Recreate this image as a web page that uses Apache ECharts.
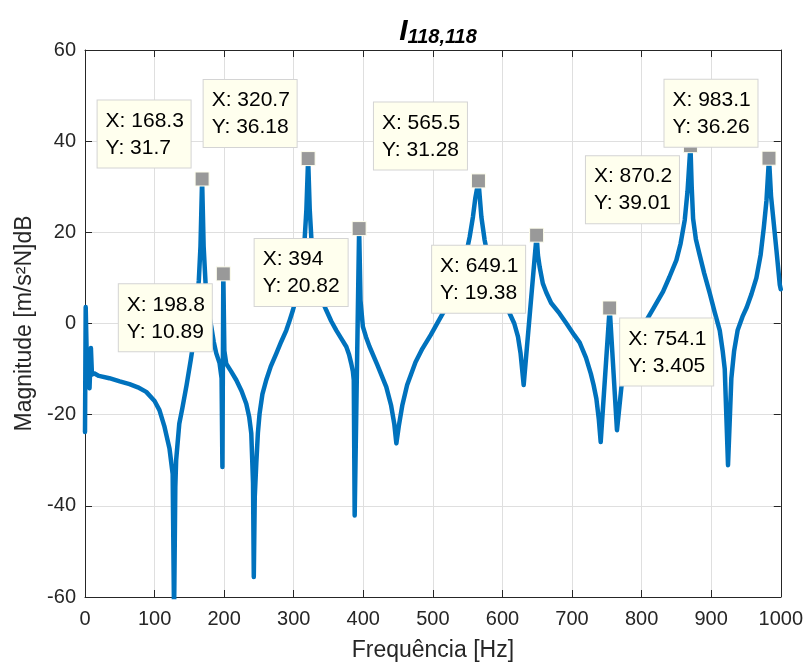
<!DOCTYPE html>
<html>
<head>
<meta charset="utf-8">
<script src="https://cdn.jsdelivr.net/npm/echarts@6/dist/echarts.min.js"></script>
<style>html,body{margin:0;padding:0;background:#fff}#c{width:806px;height:668px}</style>
</head>
<body>
<div id="c"></div>
<script>
// ---- data ----
var freq = [0, 1, 3, 6.5, 8.5, 10, 13, 20, 35, 50, 64, 76, 88, 100, 107, 114, 121.5, 126, 128, 129.8,
  131, 135.5, 140, 146, 152, 156, 160, 163.6, 166, 168.3, 170.5, 173.3, 177, 181.5, 185, 188.6, 193.4, 196.3, 197.5, 198.8,
  200.3, 203, 210, 217.4, 225, 231.8, 236, 239, 241.5, 242.6, 244, 246.2, 248.5, 250.9, 255, 260.5, 267, 274.9, 282, 289.3,
  294, 298.8, 304, 308.4, 312, 315.6, 318.2, 320.7, 323, 325.5, 330, 337, 342, 346.8, 354, 361.2, 368, 375.6, 379.5, 382.7,
  385, 386.3, 387.6, 394, 396, 399.4, 404, 409, 420, 433, 440, 444.5, 447.5, 451, 456, 463, 475, 485, 497, 508,
  519.3, 530, 538.5, 546, 552.9, 557.6, 561, 565.5, 569.7, 574.4, 582, 591.2, 600, 610.4, 617, 622.3, 626, 630.5, 649.1, 651,
  653.5, 658, 663, 670, 682, 692, 703, 711, 720, 727, 731, 735, 738.5, 741.2, 754.1, 764.6, 771, 778, 788, 797,
  806.9, 818, 830.8, 840, 850, 856, 862, 866, 870.2, 872, 874, 878, 883.5, 890, 898, 905, 912.3, 916.5, 919.5, 922,
  924.2, 926.7, 929, 933, 938, 945, 951, 958, 965, 971, 975.6, 979.5, 983.1, 986, 989, 993.8, 998.6, 1000];
var mag = [-23.8, 3.6, -11, -14.2, -5.4, -11.2, -10.9, -11.5, -12, -12.7, -13.3, -14, -15, -17, -19, -22.5, -27.5, -33, -64, -36,
  -30, -22, -18.5, -13.5, -8, -4, 2.5, 9.5, 17, 31.7, 17, 8.8, 3, -0.7, -4, -6.5, -8.7, -12, -31.5, 10.89,
  -6, -8.8, -10.5, -12.4, -14.8, -17.6, -20.5, -24.1, -35, -55.6, -38, -30.7, -24, -19.8, -15.5, -12.4, -9.4, -6.6, -4, -1.5,
  0.6, 2.9, 5.8, 9.5, 13, 18.3, 25, 36.18, 25, 18.3, 12, 7, 4.6, 2.9, 0.5, -1.5, -3.2, -5.1, -6.8, -8.8,
  -10.5, -12.4, -42.1, 20.82, 5, -0.7, -3, -5.1, -9, -13.9, -18, -22, -26.3, -22.5, -18, -13.5, -8.5, -5.5, -2.5, 0.5,
  3.6, 7, 10.2, 14, 19, 23.4, 27.5, 31.28, 23.4, 18.3, 12.5, 8.8, 5.2, 2.2, 0, -2.9, -6.5, -13.5, 19.38, 15,
  12.4, 8.8, 6.8, 4.5, 2.2, 0, -2.5, -4.2, -7.5, -11, -13.5, -16.5, -21, -26, 3.405, -23.4, -13.9, -8, -4, -1.5,
  0.7, 3.6, 7, 10.2, 13.9, 17.5, 22.7, 29, 39.01, 30, 23, 18.5, 15, 11, 6.6, 2.5, -1.5, -6, -10, -21.2,
  -31.1, -21.2, -12, -6, -1.5, 1.5, 3.5, 6.5, 10, 15, 21, 27, 36.26, 28, 23.4, 16.1, 8.5, 7.5];

// data tips
var tipX = [168.3, 198.8, 320.7, 394, 565.5, 649.1, 754.1, 870.2, 983.1];
var tipY = [31.7, 10.89, 36.18, 20.82, 31.28, 19.38, 3.405, 39.01, 36.26];

// axis ticks
var xTicks = [0, 100, 200, 300, 400, 500, 600, 700, 800, 900, 1000];
var yTicks = [-60, -40, -20, 0, 20, 40, 60];

// ---- presentation ----
var FONT = "'Liberation Sans', Arial, Helvetica, sans-serif";
var AX = '#262626';
// placement of each tip box relative to its marker: ul = up-left, dl = down-left, dr = down-right
var tipSide = ['ul', 'dl', 'ul', 'dl', 'ul', 'dl', 'dr', 'dl', 'ul'];
var SYM = 14, GAP = 11, BOXW = 93, BOXH = 67;
function labelFor(side) {
  var h = SYM / 2;
  var left = h - GAP - BOXW, right = h + GAP, up = h - GAP - BOXH, down = h + GAP;
  if (side === 'ul') return { position: [left, up] };
  if (side === 'dl') return { position: [left, down] };
  return { position: [right, down] };
}

if (freq.length !== mag.length) { console.error('length mismatch', freq.length, mag.length); }
var lineData = freq.map(function (f, i) { return [f, mag[i]]; });
var tipData = tipX.map(function (x, i) {
  return { value: [x, tipY[i]], label: labelFor(tipSide[i]) };
});

var chart = echarts.init(document.getElementById('c'), null, { renderer: 'canvas' });
var gridStyle = { show: true, lineStyle: { color: '#DFDFDF', width: 1 } };
var tick = { show: true, inside: true, length: 7, lineStyle: { color: AX, width: 1 } };
var axLine = { show: true, onZero: false, lineStyle: { color: AX, width: 1 } };
var plain = function (v) { return String(v); };

chart.setOption({
  animation: false,
  backgroundColor: '#ffffff',
  title: {
    text: '{i|I}{s|118,118}',
    left: 433, top: 12, textAlign: 'center',
    textStyle: {
      rich: {
        i: { fontFamily: FONT, fontSize: 30, fontWeight: 'bold', fontStyle: 'italic', color: '#000', lineHeight: 30, verticalAlign: 'bottom' },
        s: { fontFamily: FONT, fontSize: 20, fontWeight: 'bold', fontStyle: 'italic', color: '#000', lineHeight: 16, verticalAlign: 'bottom' }
      }
    }
  },
  grid: { left: 85, right: 25, top: 50, bottom: 71, containLabel: false },
  xAxis: [{
    type: 'value', min: xTicks[0], max: xTicks[xTicks.length - 1], interval: xTicks[1] - xTicks[0],
    position: 'bottom',
    axisLine: axLine, axisTick: tick, splitLine: gridStyle,
    axisLabel: { fontFamily: FONT, fontSize: 20, color: AX, margin: 12, formatter: plain },
    name: 'Frequência [Hz]', nameLocation: 'middle', nameGap: 42,
    nameTextStyle: { fontFamily: FONT, fontSize: 23, color: AX }
  }, {
    type: 'value', min: xTicks[0], max: xTicks[xTicks.length - 1], interval: xTicks[1] - xTicks[0],
    position: 'top',
    axisLine: axLine, axisTick: tick, splitLine: { show: false }, axisLabel: { show: false }
  }],
  yAxis: [{
    type: 'value', min: yTicks[0], max: yTicks[yTicks.length - 1], interval: yTicks[1] - yTicks[0],
    position: 'left',
    axisLine: axLine, axisTick: tick, splitLine: gridStyle,
    axisLabel: { fontFamily: FONT, fontSize: 20, color: AX, margin: 9, formatter: plain },
    name: 'Magnitude [m/s²N]dB', nameLocation: 'middle', nameGap: 48, nameRotate: 90,
    nameTextStyle: { fontFamily: FONT, fontSize: 23, color: AX }
  }, {
    type: 'value', min: yTicks[0], max: yTicks[yTicks.length - 1], interval: yTicks[1] - yTicks[0],
    position: 'right',
    axisLine: axLine, axisTick: tick, splitLine: { show: false }, axisLabel: { show: false }
  }],
  series: [{
    type: 'line', xAxisIndex: 0, yAxisIndex: 0,
    data: lineData, showSymbol: false, symbol: 'none', clip: true, z: 2,
    lineStyle: { color: '#0072BD', width: 4.5, join: 'round', cap: 'round' },
    emphasis: { disabled: true }
  }, {
    type: 'scatter', xAxisIndex: 0, yAxisIndex: 0,
    data: tipData, symbol: 'rect', symbolSize: SYM, z: 5,
    itemStyle: { color: '#999999', borderColor: '#FFFFEE', borderWidth: 1, opacity: 1 },
    label: {
      show: true, align: 'left', verticalAlign: 'top',
      formatter: function (p) { return 'X: ' + p.value[0] + '\nY: ' + p.value[1]; },
      fontFamily: FONT, fontSize: 21, lineHeight: 27, color: '#000',
      width: BOXW - 15, overflow: 'none',
      backgroundColor: '#FFFFEE', borderColor: '#D4D4D4', borderWidth: 1,
      padding: [7, 7, 6, 8]
    },
    emphasis: { disabled: true }
  }]
});
</script>
</body>
</html>
